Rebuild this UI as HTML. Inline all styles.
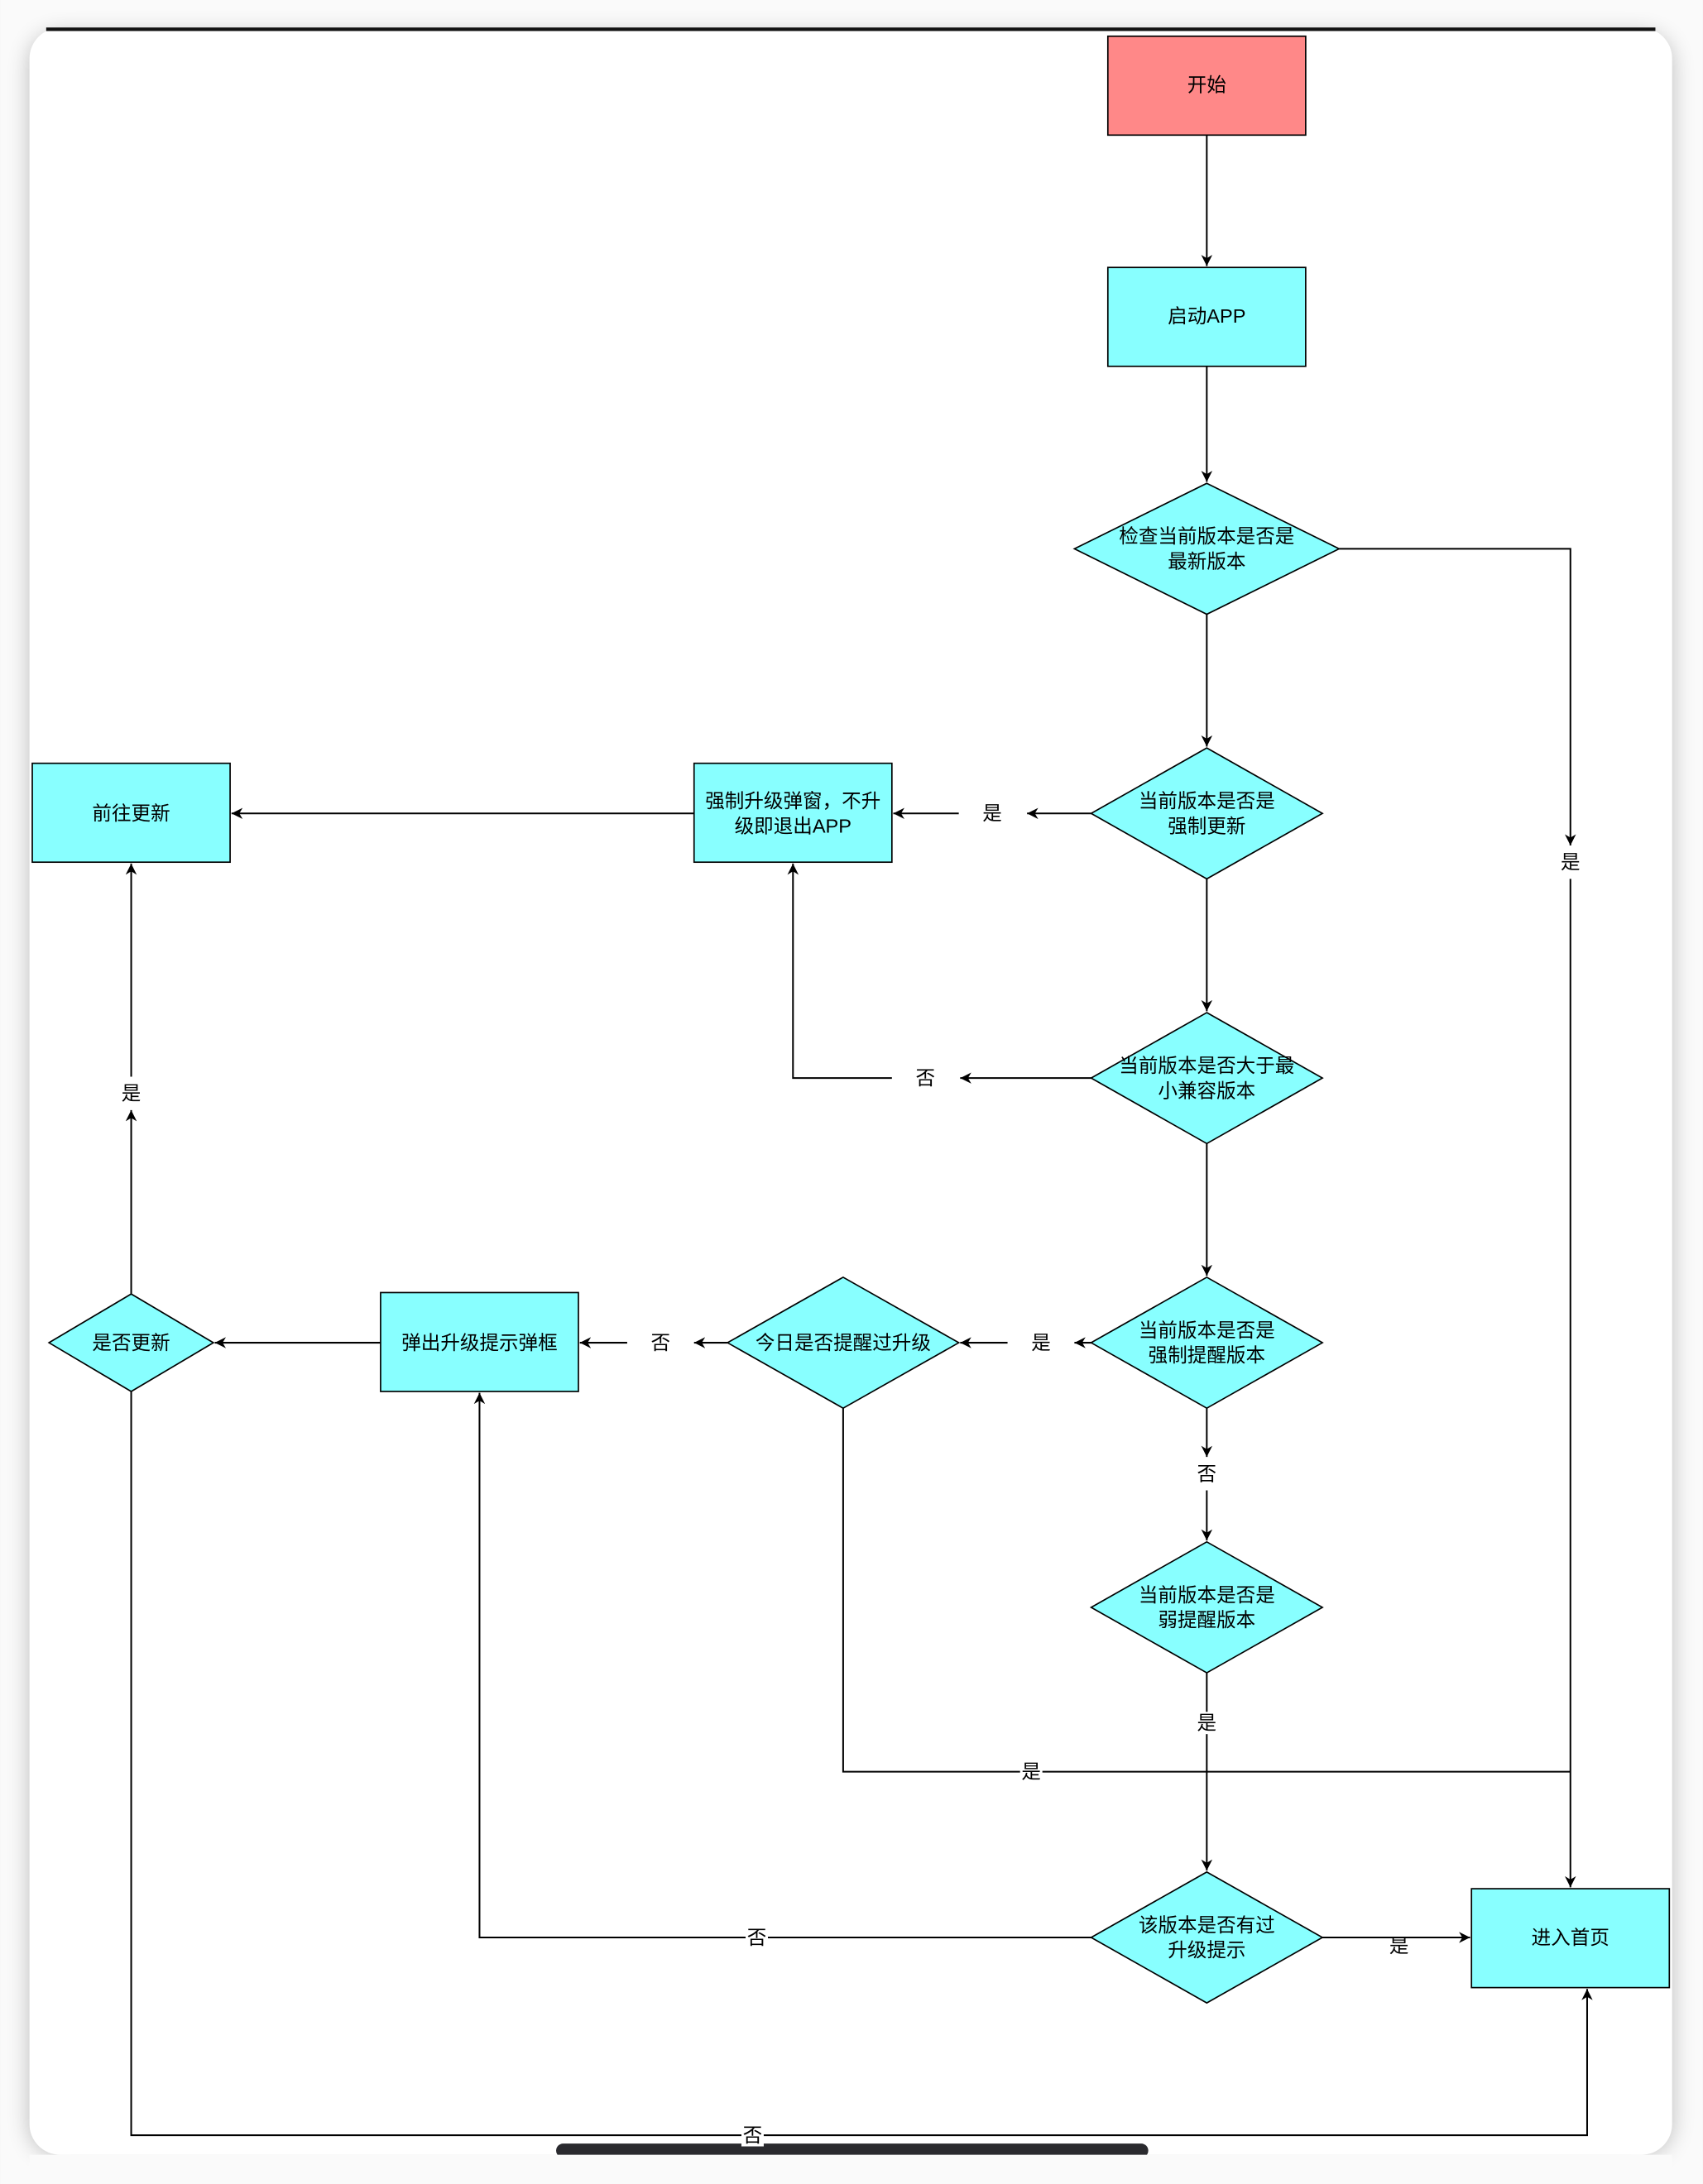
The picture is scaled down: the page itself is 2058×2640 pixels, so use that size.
<!DOCTYPE html>
<html><head><meta charset="utf-8"><style>
html,body{margin:0;padding:0;background:#f4f4f4;}
svg{display:block;}
text{font-family:"Liberation Sans","Noto Sans CJK SC",sans-serif;font-size:14px;fill:#000;text-anchor:middle;dominant-baseline:central;}
</style></head><body>
<svg width="2058" height="2640" viewBox="0 0 1222 1568" xmlns="http://www.w3.org/2000/svg">
<defs>
<marker id="a" viewBox="0 0 10 10" refX="10" refY="5" markerWidth="8" markerHeight="8" orient="auto-start-reverse" markerUnits="userSpaceOnUse"><path d="M0,0 L10,5 L0,10 L3,5 z" fill="#000"/></marker>
<filter id="sh" x="-5%" y="-5%" width="110%" height="110%"><feGaussianBlur stdDeviation="8"/></filter>
</defs>
<rect x="0" y="0" width="1222" height="1568" fill="#fafafa"/>
<rect x="21" y="24" width="1179" height="1523" rx="22" fill="#000" opacity="0.25" filter="url(#sh)"/>
<rect x="21" y="20" width="1179" height="1527" rx="22" fill="#fff"/>
<path d="M33,21 L1188,21" stroke="#111" stroke-width="2.5"/>
<rect x="399" y="1539" width="425" height="10" rx="5" fill="#2a2a2e"/>
<rect x="21" y="1547" width="1179" height="21" fill="#fafafa"/>

<g fill="#8ff" stroke="#000" stroke-width="1">
<rect x="795" y="26" width="142" height="71" fill="#ff8888"/>
<rect x="795" y="192" width="142" height="71"/>
<polygon points="866,347 961,394 866,441 771,394"/>
<polygon points="866,537 949,584 866,631 783,584"/>
<polygon points="866,727 949,774 866,821 783,774"/>
<polygon points="866,917 949,964 866,1011 783,964"/>
<polygon points="866,1107 949,1154 866,1201 783,1154"/>
<polygon points="866,1344 949,1391 866,1438 783,1391"/>
<polygon points="605,917 688,964 605,1011 522,964"/>
<polygon points="94,929 153,964 94,999 35,964"/>
<rect x="23" y="548" width="142" height="71"/>
<rect x="498" y="548" width="142" height="71"/>
<rect x="273" y="928" width="142" height="71"/>
<rect x="1056" y="1356" width="142" height="71"/>
</g>

<g fill="none" stroke="#000" stroke-width="1.2">
<path d="M866,97 V191" marker-end="url(#a)"/>
<path d="M866,263 V346" marker-end="url(#a)"/>
<path d="M961,394 H1127 V607" marker-end="url(#a)"/>
<path d="M1127,631 V1355" marker-end="url(#a)"/>
<path d="M866,441 V536" marker-end="url(#a)"/>
<path d="M783,584 H737" marker-end="url(#a)"/>
<path d="M688,584 H641" marker-end="url(#a)"/>
<path d="M498,584 H166" marker-end="url(#a)"/>
<path d="M866,631 V726" marker-end="url(#a)"/>
<path d="M783,774 H689" marker-end="url(#a)"/>
<path d="M640,774 H569 V620" marker-end="url(#a)"/>
<path d="M866,821 V916" marker-end="url(#a)"/>
<path d="M783,964 H771" marker-end="url(#a)"/>
<path d="M723,964 H689" marker-end="url(#a)"/>
<path d="M522,964 H498" marker-end="url(#a)"/>
<path d="M450,964 H416" marker-end="url(#a)"/>
<path d="M273,964 H154" marker-end="url(#a)"/>
<path d="M94,929 V797" marker-end="url(#a)"/>
<path d="M94,773 V620" marker-end="url(#a)"/>
<path d="M866,1011 V1046" marker-end="url(#a)"/>
<path d="M866,1070 V1106" marker-end="url(#a)"/>
<path d="M866,1201 V1343" marker-end="url(#a)"/>
<path d="M605,1011 V1272 H1127"/>
<path d="M783,1391 H344 V1000" marker-end="url(#a)"/>
<path d="M949,1391 H1055" marker-end="url(#a)"/>
<path d="M94,999 V1533 H1139 V1428" marker-end="url(#a)"/>
</g>

<g>
<text x="866" y="61">开始</text>
<text x="866" y="227">启动APP</text>
<text x="866" y="385">检查当前版本是否是</text>
<text x="866" y="403">最新版本</text>
<text x="866" y="575">当前版本是否是</text>
<text x="866" y="593">强制更新</text>
<text x="866" y="765">当前版本是否大于最</text>
<text x="866" y="783">小兼容版本</text>
<text x="866" y="955">当前版本是否是</text>
<text x="866" y="973">强制提醒版本</text>
<text x="866" y="1145">当前版本是否是</text>
<text x="866" y="1163">弱提醒版本</text>
<text x="866" y="1382">该版本是否有过</text>
<text x="866" y="1400">升级提示</text>
<text x="605" y="964">今日是否提醒过升级</text>
<text x="94" y="964">是否更新</text>
<text x="94" y="584">前往更新</text>
<text x="569" y="575">强制升级弹窗，不升</text>
<text x="569" y="593">级即退出APP</text>
<text x="344" y="964">弹出升级提示弹框</text>
<text x="1127" y="1391">进入首页</text>
</g>
<g>
<rect x="1118" y="610" width="18" height="18" fill="#fff"/><text x="1127" y="619">是</text>
<text x="712" y="584">是</text>
<text x="664" y="774">否</text>
<text x="747" y="964">是</text>
<text x="474" y="964">否</text>
<text x="94" y="785">是</text>
<text x="866" y="1058">否</text>
<rect x="858" y="1229" width="16" height="16" fill="#fff"/><text x="866" y="1237">是</text>
<rect x="732" y="1264" width="16" height="16" fill="#fff"/><text x="740" y="1272">是</text>
<rect x="535" y="1383" width="16" height="16" fill="#fff"/><text x="543" y="1391">否</text>
<text x="1004" y="1397">是</text>
<rect x="532" y="1525" width="16" height="16" fill="#fff"/><text x="540" y="1533">否</text>
</g>
</svg>
</body></html>
